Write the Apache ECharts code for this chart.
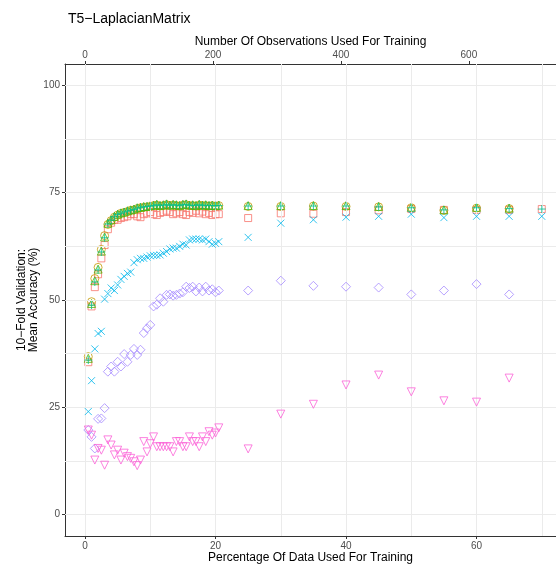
<!DOCTYPE html>
<html>
<head>
<meta charset="utf-8">
<script src="https://cdn.jsdelivr.net/npm/echarts@6/dist/echarts.min.js"></script>
<style>
html,body{margin:0;padding:0;background:#fff;}
#chart{width:556px;height:567px;}
</style>
</head>
<body>
<div id="chart"></div>
<script>
// ---- data ----
const pctX = [0.5,1,1.5,2,2.5,3,3.5,4,4.5,5,5.5,6,6.5,7,7.5,8,8.5,9,9.5,10,10.5,11,11.5,12,12.5,13,13.5,14,14.5,15,15.5,16,16.5,17,17.5,18,18.5,19,19.5,20,20.5,25,30,35,40,45,50,55,60,65,70];
const seriesNames = ['s1','s2','s3','s4','s5','s6','s7'];
const redSquare = [35.5,48.5,53.0,56.0,59.7,62.8,66.5,68.0,68.7,68.7,69.1,69.3,69.5,70.0,70.0,69.5,69.3,70.0,70.2,70.5,70.0,69.8,70.3,70.5,70.8,70.5,70.0,70.2,70.5,70.0,69.8,70.5,70.3,70.8,70.2,70.6,70.0,70.3,69.8,70.0,70.0,69.1,70.2,70.1,70.5,70.9,71.2,71.0,71.0,71.0,71.2];
const oliveCircle = [36.8,49.6,55.0,57.6,61.8,65.0,67.6,68.5,69.3,69.8,70.2,70.4,70.6,70.9,71.0,71.3,71.5,71.6,71.7,71.8,72.0,72.1,71.9,72.0,72.2,72.0,72.1,72.0,71.9,72.1,72.2,72.0,72.0,71.9,72.1,72.0,72.0,71.9,72.0,71.9,72.0,71.8,71.8,71.9,71.8,71.7,71.5,70.9,71.4,71.3,null];
const greenTriangle = [36.4,49.2,54.5,57.2,61.4,64.7,67.9,68.7,69.5,70.0,70.3,70.5,70.8,71.0,71.2,71.5,71.6,71.8,71.8,72.0,72.1,72.3,72.0,72.2,72.4,72.1,72.3,72.2,72.0,72.3,72.4,72.1,72.2,72.0,72.3,72.1,72.2,72.0,72.1,72.0,72.1,72.0,72.0,72.0,72.0,71.8,71.6,71.0,71.6,71.4,null];
const tealPlus = [36.0,48.8,54.2,57.0,61.2,64.5,67.7,68.6,69.4,69.9,70.2,70.5,70.7,70.9,71.1,71.4,71.6,71.7,71.8,71.9,72.0,72.2,72.0,72.1,72.3,72.0,72.2,72.1,72.0,72.2,72.3,72.0,72.1,72.0,72.2,72.0,72.1,72.0,72.0,72.0,72.0,71.9,71.9,71.9,71.9,71.7,71.5,71.0,71.5,71.3,71.2];
const blueCross = [24.0,31.2,38.6,42.2,42.7,50.2,51.5,52.8,52.2,53.5,54.8,55.5,56.2,56.5,58.7,59.4,59.7,59.7,60.0,60.3,60.4,60.4,60.5,60.9,61.3,61.9,62.1,62.1,62.5,63.0,62.8,64.0,64.2,64.2,64.2,64.0,64.2,63.6,63.0,63.2,63.6,64.6,67.9,68.7,69.3,69.5,70.0,69.2,69.5,69.5,69.5];
const purpleDiamond = [19.7,18.1,15.4,22.3,22.4,24.8,33.3,34.5,33.3,35.6,34.5,37.4,35.6,37.2,38.6,37.2,38.4,42.3,43.4,44.2,48.5,48.9,50.4,49.6,51.2,51.3,51.0,51.2,51.5,51.8,53.1,52.8,53.1,52.0,52.9,52.0,53.1,52.2,52.5,51.8,52.2,52.2,54.5,53.3,53.1,52.9,51.3,52.2,53.7,51.3,null];
const pinkTriangle = [19.7,18.5,12.7,15.4,15.0,11.5,17.4,16.2,13.9,15.0,12.7,14.3,13.5,13.1,12.3,11.4,12.7,17.0,14.6,16.5,18.1,15.8,15.8,15.8,15.8,15.8,14.6,17.0,17.0,15.8,15.8,18.1,17.0,17.0,15.8,18.1,17.0,19.3,18.5,19.0,20.2,15.3,23.4,25.7,30.2,32.5,28.6,26.5,26.2,31.8,null];
const xTicks = [0,20,40,60];
const xGrid = [0,10,20,30,40,50,60,70];
const yTicks = [0,25,50,75,100];
const yGrid = [0,12.5,25,37.5,50,62.5,75,87.5,100];
const obsTicks = [0,200,400,600];
const totalObs = 1020;

// ---- chart ----
const X_MIN = -3.07, X_MAX = 72.18, Y_MIN = -5, Y_MAX = 105;
const chart = echarts.init(document.getElementById('chart'), null, {renderer:'canvas'});
const FONT = 'Liberation Sans, Arial, sans-serif';
const colors = ['#F8766D','#C49A00','#53B400','#00C094','#00B6EB','#A58AFF','#FB61D7'];
const shapes = [
  {symbol:'rect', size:7},
  {symbol:'circle', size:8},
  {symbol:'triangle', size:8},
  {symbol:'path://M5,0L5,10M0,5L10,5', size:8},
  {symbol:'path://M0,0L10,10M10,0L0,10', size:7},
  {symbol:'diamond', size:9},
  {symbol:'triangle', size:8, rotate:180}
];
const allData = [redSquare, oliveCircle, greenTriangle, tealPlus, blueCross, purpleDiamond, pinkTriangle];

function pairs(ys){ const out=[]; for(let i=0;i<pctX.length;i++){ if(ys[i]!=null) out.push([pctX[i], ys[i]]);} return out; }

const series = [{
  type:'line', data:[], xAxisIndex:0, yAxisIndex:0, silent:true, z:0,
  markLine:{ silent:true, symbol:['none','none'], label:{show:false}, animation:false,
    lineStyle:{type:'solid', color:'#ebebeb', width:1},
    data: xGrid.map(v=>({xAxis:v})).concat(yGrid.map(v=>({yAxis:v}))) }
}];
allData.forEach((d,i)=>{
  series.push({
    name: seriesNames[i], type:'scatter', xAxisIndex:0, yAxisIndex:0,
    data: pairs(d), symbol: shapes[i].symbol, symbolSize: shapes[i].size,
    symbolRotate: shapes[i].rotate || 0, z: 2+i,
    itemStyle:{color:'rgba(0,0,0,0)', borderColor: colors[i], borderWidth: 1},
    emphasis:{disabled:true}, animation:false
  });
});

const tickLabel = {color:'#4d4d4d', fontSize:10, fontFamily:FONT};
chart.setOption({
  animation:false,
  title:{ text:'T5\u2212LaplacianMatrix', left:63, top:7, textStyle:{fontSize:14, fontWeight:'normal', color:'#000', fontFamily:FONT}},
  grid:{left:65, top:64, right:0, bottom:31, containLabel:false, outerBoundsMode:'none'},
  xAxis:[{
    type:'value', position:'bottom', min:X_MIN, max:X_MAX,
    name:'Percentage Of Data Used For Training', nameLocation:'middle', nameGap:16, nameMoveOverlap:false,
    nameTextStyle:{fontSize:12, color:'#000', fontFamily:FONT},
    axisLine:{show:true, onZero:false, lineStyle:{color:'#333', width:1}},
    axisTick:{show:true, length:3, lineStyle:{color:'#333'}, customValues:xTicks},
    axisLabel:{...tickLabel, margin:5, customValues:xTicks},
    splitLine:{show:false}
  },{
    type:'value', position:'top', min:X_MIN*totalObs/100, max:X_MAX*totalObs/100,
    name:'Number Of Observations Used For Training', nameLocation:'middle', nameGap:16, nameMoveOverlap:false,
    nameTextStyle:{fontSize:12, color:'#000', fontFamily:FONT},
    axisLine:{show:true, onZero:false, lineStyle:{color:'#333', width:1}},
    axisTick:{show:true, length:3, lineStyle:{color:'#333'}, customValues:obsTicks},
    axisLabel:{...tickLabel, margin:4, customValues:obsTicks},
    splitLine:{show:false}
  }],
  yAxis:[{
    type:'value', min:Y_MIN, max:Y_MAX,
    name:'10\u2212Fold Validation:\nMean Accuracy (%)', nameLocation:'middle', nameGap:25, nameRotate:90, nameMoveOverlap:false,
    nameTextStyle:{fontSize:12, color:'#000', fontFamily:FONT, lineHeight:12},
    axisLine:{show:true, onZero:false, lineStyle:{color:'#333', width:1}},
    axisTick:{show:true, length:3, lineStyle:{color:'#333'}, customValues:yTicks},
    axisLabel:{...tickLabel, margin:5, customValues:yTicks},
    splitLine:{show:false}
  }],
  series: series
});
</script>
</body>
</html>
